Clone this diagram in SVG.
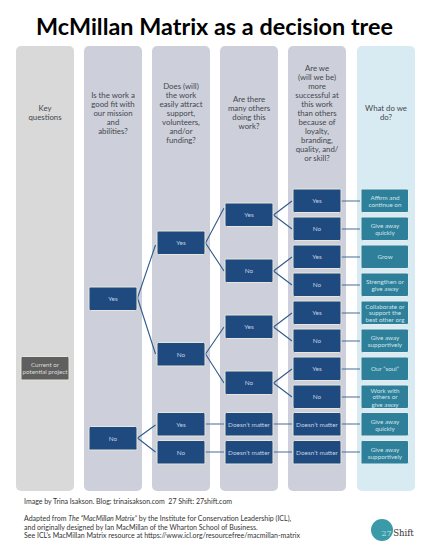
<svg xmlns="http://www.w3.org/2000/svg" width="429" height="555" viewBox="0 0 429 555">
<style>
text{font-family:"Lato","Noto Sans","Liberation Sans",sans-serif;text-anchor:middle}
.title{font-size:23.4px;font-weight:700;fill:#000}
.q{font-size:7.8px;fill:#44474d}
.colg{fill:#d9d9d9}.colb{fill:#cdd0da}.cola{fill:#d9ebf2}
.n{fill:#1f4a7f;stroke:#e6e6dc;stroke-width:1}
.a{fill:#2e7f9a;stroke:#e4eef0;stroke-width:1}
.s{fill:#5f5f5f;stroke:#e6e6dc;stroke-width:1}
.nt{font-size:6.4px;fill:#c3cfe0}
.at{font-size:6.3px;fill:#cfe3ea}
.st{font-size:6.2px;fill:#dcdcdc}
.c{fill:none;stroke:#2f5a8c;stroke-width:1.1}
.h{fill:none;stroke:#4a6c98;stroke-width:1.1}
.f{font-size:7px;fill:#333;text-anchor:start}
</style>
<text class="title" x="214.500" y="35">McMillan Matrix as a decision tree</text>
<g id="columns">
<rect class="colg" x="16" y="46" width="58" height="445" rx="5"/>
<rect class="colb" x="84" y="46" width="58" height="445" rx="5"/>
<rect class="colb" x="152" y="46" width="58" height="445" rx="5"/>
<rect class="colb" x="220" y="46" width="58" height="445" rx="5"/>
<rect class="colb" x="288" y="46" width="58" height="445" rx="5"/>
<rect class="cola" x="357" y="46" width="58" height="445" rx="5"/>
</g>
<g id="headers">
<text class="q" x="45" y="111">Key</text><text class="q" x="45" y="120">questions</text>
<text class="q" x="113" y="98">Is the work a</text><text class="q" x="113" y="107">good fit with</text><text class="q" x="113" y="116">our mission</text><text class="q" x="113" y="125">and</text><text class="q" x="113" y="134">abilities?</text>
<text class="q" x="181" y="88.500">Does (will)</text><text class="q" x="181" y="97.500">the work</text><text class="q" x="181" y="107">easily attract</text><text class="q" x="181" y="116">support,</text><text class="q" x="181" y="125">volunteers,</text><text class="q" x="181" y="134">and/or</text><text class="q" x="181" y="143">funding?</text>
<text class="q" x="249" y="102">Are there</text><text class="q" x="249" y="111">many others</text><text class="q" x="249" y="120">doing this</text><text class="q" x="249" y="129">work?</text>
<text class="q" x="317" y="70.500">Are we</text><text class="q" x="317" y="79.500">(will we be)</text><text class="q" x="317" y="88.500">more</text><text class="q" x="317" y="97.500">successful at</text><text class="q" x="317" y="107">this work</text><text class="q" x="317" y="116">than others</text><text class="q" x="317" y="125">because of</text><text class="q" x="317" y="134">loyalty,</text><text class="q" x="317" y="143">branding,</text><text class="q" x="317" y="152">quality, and/</text><text class="q" x="317" y="161">or skill?</text>
<text class="q" x="386" y="111">What do we</text><text class="q" x="386" y="120">do?</text>
</g>
<g id="connectors">
<path class="c" d="M137.500 298L155.500 245M137.500 298L155.500 354M137.500 438L155.500 425M137.500 438L155.500 452"/>
<path class="c" d="M205.500 243L224 208M205.500 243L224 271M205.500 354L224 327M205.500 354L224 383"/>
<path class="h" d="M205.500 424L224 424M205.500 452L224 452"/>
<path class="c" d="M273.500 215L292 201M273.500 215L292 229M273.500 271L292 257M273.500 271L292 285M273.500 327L292 313M273.500 327L292 341M273.500 383L292 369M273.500 383L292 397"/>
<path class="h" d="M273.500 424L292 424M273.500 452L292 452"/>
<path class="h" d="M341.500 201L360 201M341.500 229L360 229M341.500 257L360 257M341.500 285L360 285M341.500 313L360 313M341.500 341L360 341M341.500 369L360 369M341.500 397L360 397M341.500 424L360 424M341.500 452L360 452"/>
</g>
<g id="n-start"><rect class="s" x="21" y="356.500" width="48" height="23.500" rx="1.500"/><text class="st" x="45" y="367">Current or</text><text class="st" x="45" y="374">potential project</text></g>
<g id="c2-yes"><rect class="n" x="89" y="287" width="48" height="23.500" rx="1.500"/><text class="nt" x="113" y="301">Yes</text></g>
<g id="c2-no"><rect class="n" x="89" y="426.500" width="48" height="23.500" rx="1.500"/><text class="nt" x="113" y="441">No</text></g>
<g id="c3-1"><rect class="n" x="157" y="231" width="48" height="23.500" rx="1.500"/><text class="nt" x="181" y="245">Yes</text></g>
<g id="c3-2"><rect class="n" x="157" y="342.500" width="48" height="23.500" rx="1.500"/><text class="nt" x="181" y="357">No</text></g>
<g id="c3-3"><rect class="n" x="157" y="412.500" width="48" height="23.500" rx="1.500"/><text class="nt" x="181" y="427">Yes</text></g>
<g id="c3-4"><rect class="n" x="157" y="440.500" width="48" height="23.500" rx="1.500"/><text class="nt" x="181" y="455">No</text></g>
<g id="c4-1"><rect class="n" x="225" y="203" width="48" height="23.500" rx="1.500"/><text class="nt" x="249" y="217">Yes</text></g>
<g id="c4-2"><rect class="n" x="225" y="259" width="48" height="23.500" rx="1.500"/><text class="nt" x="249" y="273">No</text></g>
<g id="c4-3"><rect class="n" x="225" y="315" width="48" height="23.500" rx="1.500"/><text class="nt" x="249" y="329">Yes</text></g>
<g id="c4-4"><rect class="n" x="225" y="371" width="48" height="23.500" rx="1.500"/><text class="nt" x="249" y="385">No</text></g>
<g id="c4-5"><rect class="n" x="225" y="412.500" width="48" height="23.500" rx="1.500"/><text class="nt" x="249" y="427">Doesn’t matter</text></g>
<g id="c4-6"><rect class="n" x="225" y="440.500" width="48" height="23.500" rx="1.500"/><text class="nt" x="249" y="455">Doesn’t matter</text></g>
<g id="c5-1"><rect class="n" x="293" y="189" width="48" height="23.500" rx="1.500"/><text class="nt" x="317" y="203">Yes</text></g>
<g id="c5-2"><rect class="n" x="293" y="217" width="48" height="23.500" rx="1.500"/><text class="nt" x="317" y="231">No</text></g>
<g id="c5-3"><rect class="n" x="293" y="245" width="48" height="23.500" rx="1.500"/><text class="nt" x="317" y="259">Yes</text></g>
<g id="c5-4"><rect class="n" x="293" y="273" width="48" height="23.500" rx="1.500"/><text class="nt" x="317" y="287">No</text></g>
<g id="c5-5"><rect class="n" x="293" y="301" width="48" height="23.500" rx="1.500"/><text class="nt" x="317" y="315">Yes</text></g>
<g id="c5-6"><rect class="n" x="293" y="329" width="48" height="23.500" rx="1.500"/><text class="nt" x="317" y="343">No</text></g>
<g id="c5-7"><rect class="n" x="293" y="357" width="48" height="23.500" rx="1.500"/><text class="nt" x="317" y="371">Yes</text></g>
<g id="c5-8"><rect class="n" x="293" y="385" width="48" height="23.500" rx="1.500"/><text class="nt" x="317" y="399">No</text></g>
<g id="c5-9"><rect class="n" x="293" y="412.500" width="48" height="23.500" rx="1.500"/><text class="nt" x="317" y="427">Doesn’t matter</text></g>
<g id="c5-10"><rect class="n" x="293" y="440.500" width="48" height="23.500" rx="1.500"/><text class="nt" x="317" y="455">Doesn’t matter</text></g>
<g id="a1"><rect class="a" x="361" y="189" width="47.500" height="23.500" rx="1.500"/><text class="at" x="385" y="200">Affirm and</text><text class="at" x="385" y="206.500">continue on</text></g>
<g id="a2"><rect class="a" x="361" y="217" width="47.500" height="23.500" rx="1.500"/><text class="at" x="385" y="228">Give away</text><text class="at" x="385" y="234.500">quickly</text></g>
<g id="a3"><rect class="a" x="361" y="245" width="47.500" height="23.500" rx="1.500"/><text class="at" x="385" y="259">Grow</text></g>
<g id="a4"><rect class="a" x="361" y="273" width="47.500" height="23.500" rx="1.500"/><text class="at" x="385" y="284">Strengthen or</text><text class="at" x="385" y="290.500">give away</text></g>
<g id="a5"><rect class="a" x="361" y="301" width="47.500" height="23.500" rx="1.500"/><text class="at" x="385" y="308.500">Collaborate or</text><text class="at" x="385" y="315">support the</text><text class="at" x="385" y="322">best other org</text></g>
<g id="a6"><rect class="a" x="361" y="329" width="47.500" height="23.500" rx="1.500"/><text class="at" x="385" y="340">Give away</text><text class="at" x="385" y="346.500">supportively</text></g>
<g id="a7"><rect class="a" x="361" y="357" width="47.500" height="23.500" rx="1.500"/><text class="at" x="385" y="371">Our “soul”</text></g>
<g id="a8"><rect class="a" x="361" y="385" width="47.500" height="23.500" rx="1.500"/><text class="at" x="385" y="392.500">Work with</text><text class="at" x="385" y="399">others or</text><text class="at" x="385" y="406.500">give away</text></g>
<g id="a9"><rect class="a" x="361" y="412.500" width="47.500" height="23.500" rx="1.500"/><text class="at" x="385" y="424">Give away</text><text class="at" x="385" y="430.500">quickly</text></g>
<g id="a10"><rect class="a" x="361" y="440.500" width="47.500" height="23.500" rx="1.500"/><text class="at" x="385" y="452">Give away</text><text class="at" x="385" y="458.500">supportively</text></g>
<g id="footer">
<text class="f" x="24" y="504">Image by Trina Isakson. Blog: trinaisakson.com &#160;27 Shift: 27shift.com</text>
<text class="f" x="24" y="521">Adapted from <tspan font-style="italic">The “MacMillan Matrix”</tspan> by the Institute for Conservation Leadership (ICL),</text>
<text class="f" x="24" y="529.500">and originally designed by Ian MacMillan of the Wharton School of Business.</text>
<text class="f" x="24" y="538">See ICL’s MacMillan Matrix resource at https://www.icl.org/resourcefree/macmillan-matrix</text>
</g>
<g id="logo">
<circle cx="382" cy="530" r="11" fill="#3a9aa8"/>
<text x="386.500" y="536" style="font-family:'DejaVu Serif',serif;font-size:8px;text-anchor:middle" fill="#bfe3e6">27</text>
<text x="403.500" y="536" style="font-family:'DejaVu Serif',serif;font-size:8.500px;text-anchor:middle" fill="#333">Shift</text>
</g>
</svg>
